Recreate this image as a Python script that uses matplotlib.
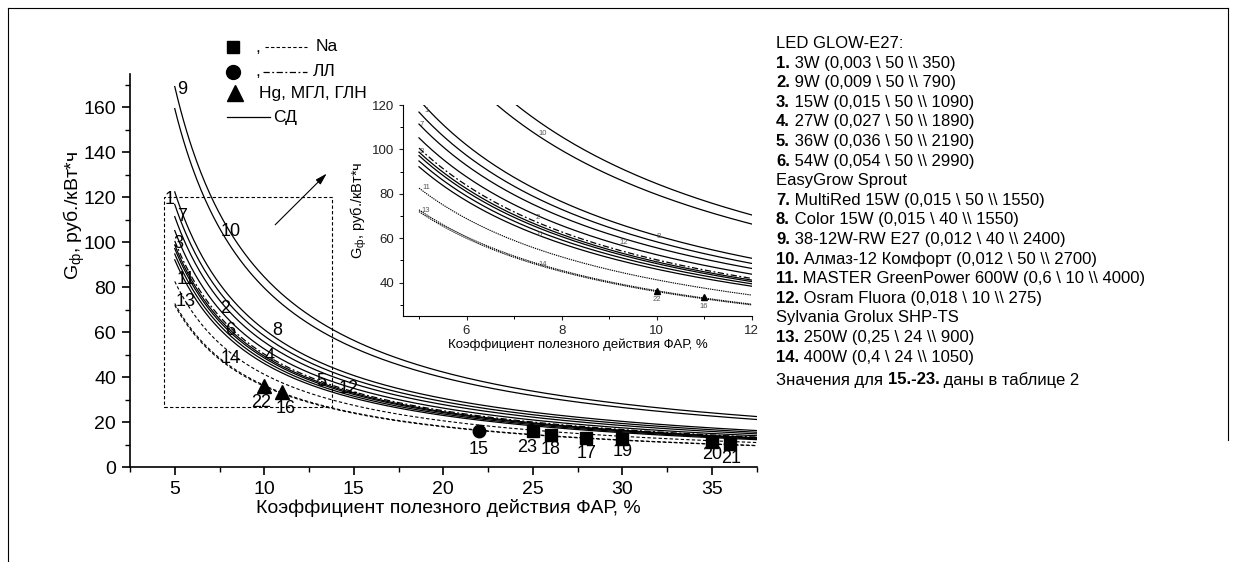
import matplotlib
matplotlib.use("Agg")
import matplotlib.pyplot as plt
import numpy as np
from matplotlib.lines import Line2D
from matplotlib.patches import Rectangle

plt.rcParams["font.family"] = ["Liberation Sans", "DejaVu Sans"]
plt.rcParams["mathtext.fontset"] = "custom"
plt.rcParams["mathtext.rm"] = "Liberation Sans"
plt.rcParams["mathtext.it"] = "Liberation Sans"

W, H = 1236, 562

# curve coefficients G = k / eta
curve_ids = ["1", "2", "3", "4", "5", "6", "7", "8", "9", "10", "11", "12", "13", "14"]
curve_k = [584, 526, 494, 486, 474, 461, 557, 612, 846, 797, 413, 503, 364, 360]
curve_kind = ["led"] * 10 + ["na", "ll", "na", "na"]

# single lamps (15-23)
pt_ids = ["15", "23", "18", "17", "19", "20", "21", "22", "16"]
pt_x = [22, 25, 26, 28, 30, 35, 36, 10, 11]
pt_y = [16.3, 16.3, 14.4, 13.2, 12.4, 11.4, 10.2, 36.1, 33.4]
pt_kind = ["ll", "na", "na", "na", "na", "na", "na", "hg", "hg"]

# curve labels in the main plot
lab_text = ["9", "1", "7", "10", "3", "11", "13", "2", "6", "8", "14", "4", "5", "12",
            "22", "16", "15", "23", "18", "17", "19", "20", "21"]
lab_x = [5.4, 4.7, 5.4, 8.1, 5.2, 5.6, 5.6, 7.8, 8.1, 10.7, 8.1, 10.3, 13.2, 14.7,
         9.8, 11.2, 22.0, 24.7, 26.0, 28.0, 30.0, 35.0, 36.1]
lab_y = [168, 118.8, 111.4, 105, 99.6, 83.6, 73.6, 70.7, 61, 61, 48.4, 49.2, 38, 35.1,
         28.7, 26.2, 7.7, 8.9, 8.0, 6.2, 6.8, 5.5, 4.1]

# curve labels in the inset
ins_text = ["1", "7", "3", "11", "13", "10", "2", "6", "14", "12", "8", "4", "22", "16"]
ins_x = [5.15, 5.05, 5.05, 5.15, 5.15, 7.6, 7.5, 7.55, 7.6, 9.3, 10.05, 10.0, 10.0, 11.0]
ins_y = [117.5, 111, 99, 83, 72.5, 107, 69.5, 61.5, 48, 58, 61, 49, 32.5, 29.5]

legend_rows = [
    ("", "LED GLOW-E27:"),
    ("1.", "3W (0,003 \\ 50 \\\\ 350)"),
    ("2.", "9W (0,009 \\ 50 \\\\ 790)"),
    ("3.", "15W (0,015 \\ 50 \\\\ 1090)"),
    ("4.", "27W (0,027 \\ 50 \\\\ 1890)"),
    ("5.", "36W (0,036 \\ 50 \\\\ 2190)"),
    ("6.", "54W (0,054 \\ 50 \\\\ 2990)"),
    ("", "EasyGrow Sprout"),
    ("7.", "MultiRed 15W (0,015 \\ 50 \\\\ 1550)"),
    ("8.", "Color 15W (0,015 \\ 40 \\\\ 1550)"),
    ("9.", "38-12W-RW E27 (0,012 \\ 40 \\\\ 2400)"),
    ("10.", "Алмаз-12 Комфорт (0,012 \\ 50 \\\\ 2700)"),
    ("11.", "MASTER GreenPower 600W (0,6 \\ 10 \\\\ 4000)"),
    ("12.", "Osram Fluora (0,018 \\ 10 \\\\ 275)"),
    ("", "Sylvania Grolux SHP-TS"),
    ("13.", "250W (0,25 \\ 24 \\\\ 900)"),
    ("14.", "400W (0,4 \\ 24 \\\\ 1050)"),
]

X_LABEL = "Коэффициент полезного действия ФАР, %"
Y_LABEL = "G$_\\mathrm{ф}$, руб./кВт*ч"

STYLE = {
    "led": dict(ls="-", lw=0.9),
    "na": dict(ls=(0, (3, 2)), lw=0.8),
    "ll": dict(ls=(0, (5, 2, 1.5, 2)), lw=0.9),
}
MARK = {"na": "s", "ll": "o", "hg": "^"}


def px(x, y):
    return x / W, 1 - y / H


fig = plt.figure(figsize=(W / 100, H / 100), dpi=100)

# ---- main axes
ax = fig.add_axes([130 / W, 1 - 467.3 / H, (756.5 - 130) / W, (467.3 - 73.5) / H])
eta = np.linspace(5, 37.5, 400)
for k, kind in zip(curve_k, curve_kind):
    ax.plot(eta, k / eta, color="black", **STYLE[kind])
for x, y, kind in zip(pt_x, pt_y, pt_kind):
    ax.plot(x, y, marker=MARK[kind], color="black", ms=10 if kind == "hg" else 9, ls="none")
for t, x, y in zip(lab_text, lab_x, lab_y):
    ax.text(x, y, t, fontsize=13, ha="center", va="center")

ax.add_patch(Rectangle((4.4, 26.7), 9.4, 93.3, fill=False, ls=(0, (3, 2)), lw=0.8))
ax.annotate("", xy=(13.6, 131.4), xytext=(10.5, 106.9),
            arrowprops=dict(arrowstyle="-|>,head_length=0.7,head_width=0.2", lw=0.8, color="black"))

ax.set_xlim(2.5, 37.5)
ax.set_ylim(0, 175)
ax.set_xticks(np.arange(5, 36, 5))
ax.set_xticks(np.arange(2.5, 37.6, 2.5), minor=True)
ax.set_yticks(np.arange(0, 161, 20))
ax.set_yticks(np.arange(0, 171, 10), minor=True)
ax.spines[["top", "right"]].set_visible(False)
for s in ("left", "bottom"):
    ax.spines[s].set_linewidth(1.2)
ax.tick_params(which="major", direction="out", length=6, width=1.2, labelsize=14, pad=4)
ax.tick_params(which="minor", direction="out", length=3.5, width=1.0)
ax.patch.set_alpha(0)

fig.text(*px(448, 508), X_LABEL, fontsize=14, ha="center", va="center")
fig.text(*px(74, 215), Y_LABEL, fontsize=14, ha="center", va="center", rotation=90)

# ---- inset
ins = fig.add_axes([403.3 / W, 1 - 316 / H, (751.7 - 403.3) / W, (316 - 105) / H])
eta_i = np.linspace(5, 12, 200)
for k, kind in zip(curve_k, curve_kind):
    st = dict(STYLE[kind])
    if kind == "na":
        st["ls"] = (0, (1.2, 0.8))
    ins.plot(eta_i, k / eta_i, color="black", **st)
for x, y, kind in zip(pt_x, pt_y, pt_kind):
    if 5 <= x <= 12:
        ins.plot(x, y, marker=MARK[kind], color="black", ms=5, ls="none")
for t, x, y in zip(ins_text, ins_x, ins_y):
    ins.text(x, y, t, fontsize=5.5, ha="center", va="center", color="#555555")
ins.set_xlim(4.67, 12)
ins.set_ylim(25, 120)
ins.set_xticks([6, 8, 10, 12])
ins.set_xticks([5, 7, 9, 11], minor=True)
ins.set_yticks([40, 60, 80, 100, 120])
ins.set_yticks([30, 50, 70, 90, 110], minor=True)
ins.spines[["top", "right"]].set_visible(False)
ins.tick_params(which="major", direction="out", length=3, width=0.8, labelsize=9.5, colors="#222222")
ins.tick_params(which="minor", direction="out", length=2, width=0.7)
ins.set_xlabel(X_LABEL, fontsize=9.5, labelpad=1)
ins.set_ylabel(Y_LABEL, fontsize=10.5, labelpad=2)

# ---- legend drawn in the chart corner
fig.add_artist(Line2D(*zip(px(233, 46.7)), marker="s", ms=9, color="black", ls="none"))
fig.add_artist(Line2D(*zip(px(233, 71.7)), marker="o", ms=10, color="black", ls="none"))
fig.add_artist(Line2D(*zip(px(235, 93.3)), marker="^", ms=11, color="black", ls="none"))
fig.text(*px(255, 47), ",", fontsize=12.5, va="center")
fig.text(*px(255, 72), ",", fontsize=12.5, va="center")
(x1, y1), (x2, y2) = px(265, 46.7), px(307, 46.7)
fig.add_artist(Line2D([x1, x2], [y1, y2], color="black", **STYLE["na"]))
(x1, y1), (x2, y2) = px(263, 71.7), px(307, 71.7)
fig.add_artist(Line2D([x1, x2], [y1, y2], color="black", **STYLE["ll"]))
(x1, y1), (x2, y2) = px(227, 117.3), px(270, 117.3)
fig.add_artist(Line2D([x1, x2], [y1, y2], color="black", **STYLE["led"]))
fig.text(*px(316, 46.7), "Na", fontsize=12.5, va="center")
fig.text(*px(313, 71.7), "ЛЛ", fontsize=12.5, va="center")
fig.text(*px(259, 93.3), "Hg, МГЛ, ГЛН", fontsize=12.5, va="center")
fig.text(*px(273, 117.3), "СД", fontsize=12.5, va="center")

# ---- description on the right
for i, (num, rest) in enumerate(legend_rows):
    y = 43.5 + 19.6 * i
    if num:
        t = fig.text(*px(776, y), num, fontsize=12, fontweight="bold", va="center")
        ax.annotate(" " + rest, xy=(1, 0), xycoords=t, fontsize=12, va="bottom", ha="left",
                    annotation_clip=False)
    else:
        fig.text(*px(776, y), rest, fontsize=12, va="center")

t1 = fig.text(*px(776, 380), "Значения для ", fontsize=12, va="center")
t2 = ax.annotate("15.-23.", xy=(1, 0), xycoords=t1, fontsize=12, fontweight="bold",
                 va="bottom", annotation_clip=False)
ax.annotate(" даны в таблице 2", xy=(1, 0), xycoords=t2, fontsize=12, va="bottom",
            annotation_clip=False)

# page frame
for (a, b) in [((8, 8), (1228, 8)), ((8, 8), (8, 562)), ((1228, 8), (1228, 440))]:
    (x1, y1), (x2, y2) = px(*a), px(*b)
    fig.add_artist(Line2D([x1, x2], [y1, y2], color="black", lw=0.8))

fig.savefig("out.png", dpi=100)
